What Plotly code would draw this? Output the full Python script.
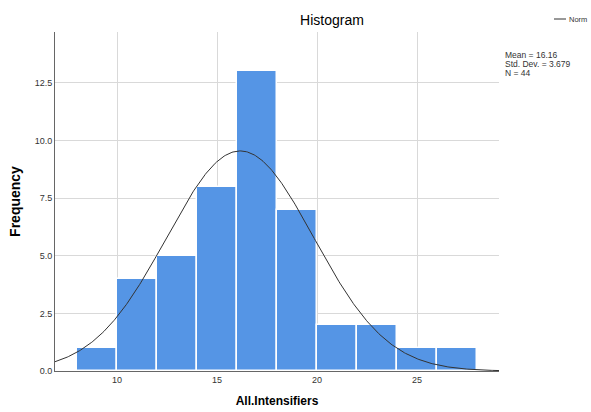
import numpy as np
import plotly.graph_objects as go

bin_edges = [8, 10, 12, 14, 16, 18, 20, 22, 24, 26, 28]
counts = [1, 4, 5, 8, 13, 7, 2, 2, 1, 1]
mean_val = 16.16
std_val = 3.679
n_val = 44
x_ticks = [10, 15, 20, 25]
y_ticks = [0.0, 2.5, 5.0, 7.5, 10.0, 12.5]
y_tick_labels = ["0.0", "2.5", "5.0", "7.5", "10.0", "12.5"]

bin_w = bin_edges[1] - bin_edges[0]
centers = [(a + b) / 2 for a, b in zip(bin_edges[:-1], bin_edges[1:])]

xr = [6.9, 29.1]
xs = np.linspace(xr[0], xr[1], 400)
ys = n_val * bin_w / (std_val * np.sqrt(2 * np.pi)) * np.exp(-0.5 * ((xs - mean_val) / std_val) ** 2)

font = "Liberation Sans, Arial, sans-serif"

fig = go.Figure()
fig.add_trace(go.Bar(x=centers, y=counts, width=bin_w,
                     marker=dict(color="#5595E5", line=dict(color="white", width=1.5)),
                     showlegend=False))
fig.add_trace(go.Scatter(x=xs, y=ys, mode="lines", line=dict(color="#333333", width=1),
                         name="Norm", showlegend=False, cliponaxis=True))

L, R, T, B = 55, 92, 32, 41
W, H = 591, 412
pw = W - L - R
ph = H - T - B

def px(x):
    return (x - L) / pw

def py(y):
    return (H - B - y) / ph

fig.update_layout(
    width=W, height=H,
    margin=dict(l=L, r=R, t=T, b=B, autoexpand=False),
    paper_bgcolor="white", plot_bgcolor="white",
    font=dict(family=font, color="#333333", size=9),
    title=dict(text="Histogram", x=332 / W, xanchor="center", xref="container",
               y=1 - 20 / H, yanchor="middle", font=dict(size=14, color="black")),
    bargap=0,
    xaxis=dict(range=xr, tickvals=x_ticks, showgrid=True, gridcolor="#d9d9d9", gridwidth=1,
               showline=True, linecolor="#666666", linewidth=1, zeroline=False, ticks="",
               tickfont=dict(size=9, color="#333333"), automargin=False,
               title=dict(text="<b>All.Intensifiers</b>", font=dict(size=12, color="black"), standoff=12)),
    yaxis=dict(range=[0, 14.7], tickvals=y_ticks, ticktext=y_tick_labels, showgrid=True,
               gridcolor="#d9d9d9", gridwidth=1, showline=True, linecolor="#666666", linewidth=1,
               zeroline=False, ticks="", tickfont=dict(size=9, color="#333333"), automargin=False,
               title=dict(text="<b>Frequency</b>", font=dict(size=14, color="black"), standoff=10)),
)

fig.add_shape(type="line", xref="paper", yref="paper", x0=px(554), x1=px(566), y0=py(19), y1=py(19),
              line=dict(color="#333333", width=1))
fig.add_annotation(text="Norm", xref="paper", yref="paper", x=px(566.5), y=py(19), xanchor="left",
                   yanchor="middle", showarrow=False, font=dict(size=7.5, color="#333333"))
stats = [f"Mean = {mean_val:.2f}", f"Std. Dev. = {std_val:.3f}", f"N = {n_val}"]
for i, s in enumerate(stats):
    fig.add_annotation(text=s, xref="paper", yref="paper", x=px(503), y=py(55 + 9 * i),
                       xanchor="left", yanchor="middle", showarrow=False,
                       font=dict(size=8.5, color="#333333"))

fig.write_html("out.html", config={"displayModeBar": False},
               post_script="document.body.style.margin='0';")
